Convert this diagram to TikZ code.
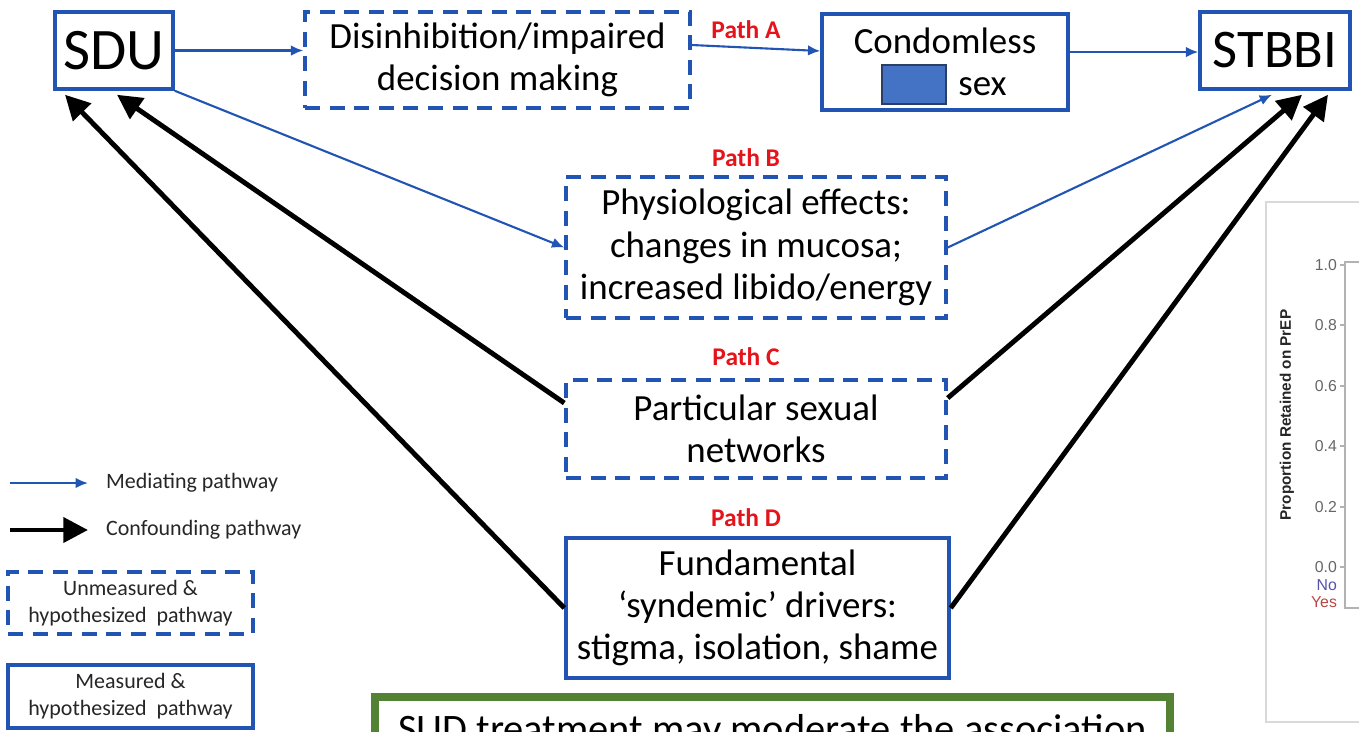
\documentclass[tikz,border=0pt]{standalone}
\usepackage{fontspec}
\setmainfont{Carlito}
\newfontfamily\chartfont{Liberation Sans}
\usetikzlibrary{arrows.meta, positioning, calc}
\definecolor{pathblue}{HTML}{2255B3}
\definecolor{pathred}{HTML}{E5141B}
\definecolor{boxgreen}{HTML}{548235}
\definecolor{blankfill}{HTML}{4472C4}
\definecolor{blankline}{HTML}{2B3F66}

\begin{document}
\begin{tikzpicture}[x=0.02cm, y=-0.02cm,
    solidbox/.style={draw=pathblue, line width=2pt, align=center, inner sep=2pt,
        font=\fontsize{21}{24}\selectfont},
    dashbox/.style={solidbox, dash pattern=on 8.5pt off 5.5pt},
    pathlabel/.style={text=pathred, font=\fontsize{14.5}{16}\selectfont\bfseries},
    mediate/.style={-{Latex[length=7pt,width=6pt]}, draw=pathblue, line width=1.2pt},
    confound/.style={-{Triangle[length=14pt,width=14pt]}, line width=2.8pt},
    legendtext/.style={anchor=west, text=black!85, font=\fontsize{12.5}{15}\selectfont},
    charttext/.style={text=black!60, font=\chartfont\fontsize{9}{10}\selectfont}]
    \useasboundingbox (0,0) rectangle (1359,731);
    \clip (0,0) rectangle (1359,731);

    % Main boxes, top row
    \node[solidbox, minimum width=2.36cm, minimum height=1.54cm, font=\fontsize{33.5}{36}\selectfont] (sdu) at (114,50.5) {SDU};
    \node[dashbox, minimum width=7.7cm, minimum height=1.92cm] (disinh) at (497.5,60) {Disinhibition/impaired\\decision making};
    \node[solidbox, minimum width=4.92cm, minimum height=1.92cm] (condom) at (945,62) {Condomless\\\hspace*{1.5cm}sex};
    \node[draw=blankline, fill=blankfill, line width=0.6pt, minimum width=1.28cm, minimum height=0.78cm, inner sep=0pt] (blank) at (914,84.5) {};
    \node[solidbox, minimum width=3cm, minimum height=1.54cm, font=\fontsize{31}{36}\selectfont] (stbbi) at (1275,50.5) {STBBI};

    % Middle boxes
    \node[dashbox, minimum width=7.6cm, minimum height=2.82cm] (physio) at (756,247.5) {Physiological effects:\\changes in mucosa;\\increased libido/energy};
    \node[dashbox, minimum width=7.6cm, minimum height=1.96cm] (networks) at (756,429) {Particular sexual\\networks};
    \node[solidbox, minimum width=7.66cm, minimum height=2.8cm] (drivers) at (757.5,608) {Fundamental\\‘syndemic’ drivers:\\stigma, isolation, shame};

    % Path labels
    \node[pathlabel] (labelA) at (746,30) {Path A};
    \node[pathlabel] (labelB) at (746,158) {Path B};
    \node[pathlabel] (labelC) at (746,357) {Path C};
    \node[pathlabel] (labelD) at (746,518) {Path D};

    % Mediating pathways
    \draw[mediate] (sdu.east) -- (sdu.east -| disinh.west);
    \draw[mediate] ([yshift=0.3cm]disinh.east) -- ([yshift=0.22cm]condom.west);
    \draw[mediate] ([yshift=0.2cm]condom.east) -- ([yshift=0.2cm]condom.east -| stbbi.west);
    \draw[mediate] (sdu.south east) -- (physio.west);
    \draw[mediate] (physio.east) -- ([xshift=-0.06cm, yshift=-0.08cm]stbbi.south);

    % Confounding pathways
    \draw[confound] ([yshift=0.52cm]networks.west) -- ([xshift=0.06cm, yshift=-0.08cm]sdu.south);
    \draw[confound] (drivers.west) -- ([xshift=-0.98cm, yshift=-0.08cm]sdu.south);
    \draw[confound] ([yshift=0.62cm]networks.east) -- ([xshift=0.54cm, yshift=-0.08cm]stbbi.south);
    \draw[confound] (drivers.east) -- ([xshift=1.06cm, yshift=-0.08cm]stbbi.south);

    % Legend
    \coordinate (medstart) at (10,483);
    \coordinate (medend) at (88,483);
    \coordinate (constart) at (10,530);
    \coordinate (conend) at (88,530);
    \draw[mediate] (medstart) -- (medend);
    \draw[confound] (constart) -- (conend);
    \node[legendtext] (medtext) at (100,483) {Mediating pathway};
    \node[legendtext] (context) at (100,530) {Confounding pathway};
    \node[dashbox, line width=1.8pt, minimum width=4.9cm, minimum height=1.24cm, font=\fontsize{12.5}{15.5}\selectfont, text=black!85] (unmeasured) at (130.5,603) {Unmeasured \&\\hypothesized\ \ pathway};
    \node[solidbox, line width=1.8pt, minimum width=4.9cm, minimum height=1.26cm, font=\fontsize{12.5}{15.5}\selectfont, text=black!85] (measured) at (130.5,696.5) {Measured \&\\hypothesized\ \ pathway};

    % Moderation box (cut off)
    \draw[boxgreen, line width=4.5pt] (375,697) rectangle (1170,780);
    \node[anchor=base, font=\fontsize{23}{27}\selectfont] (moderate) at (772.5,742) {SUD treatment may moderate the association};

    % Chart fragment
    \draw[black!15, line width=0.8pt] (1266,202) rectangle (1400,722);
    \draw[black!30, line width=0.8pt] (1345,262) rectangle (1400,608);
    \foreach \v/\y [count=\i] in {1.0/265, 0.8/325, 0.6/386, 0.4/446, 0.2/507, 0.0/567} {
        \draw[black!30, line width=0.8pt] (1340,\y) -- (1345,\y);
        \node[charttext, anchor=east, inner sep=1pt] (tick\i) at (1339,\y) {\v};
    }
    \node[charttext, anchor=east, inner sep=1pt, text=blue!35!gray] (nolabel) at (1339,585) {No};
    \node[charttext, anchor=east, inner sep=1pt, text=red!45!gray] (yeslabel) at (1339,602) {Yes};
    \node[charttext, text=black!85, rotate=90, font=\chartfont\fontsize{8.7}{9}\selectfont\bfseries] (ylabel) at (1287,415) {Proportion Retained on PrEP};
\end{tikzpicture}
\end{document}
